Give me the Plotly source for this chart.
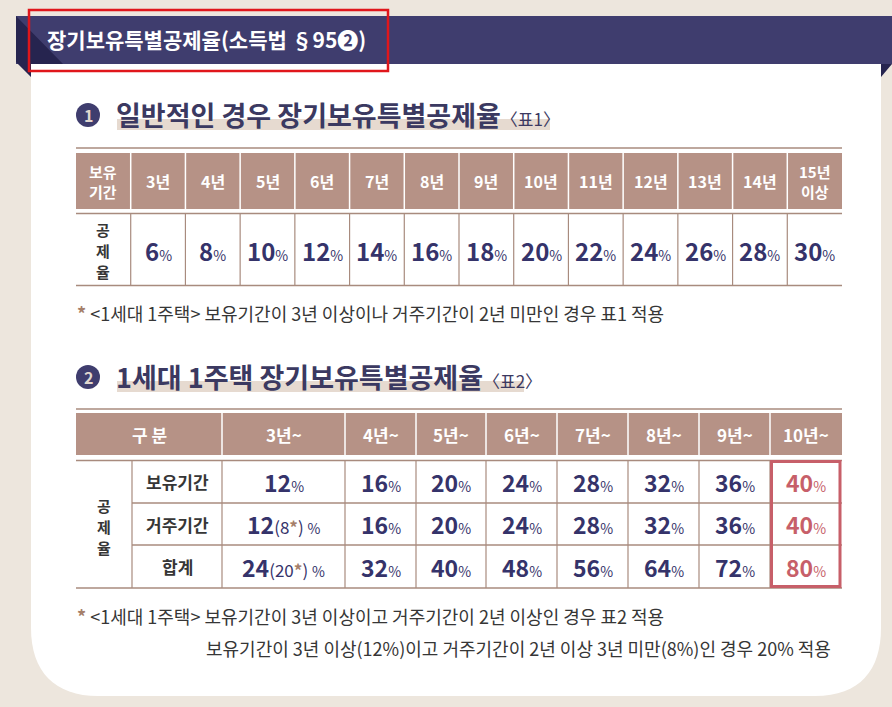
import plotly.graph_objects as go

# ---- data ----
title_text = "장기보유특별공제율(소득법 §95❷)"

sec1_no = "1"
sec1_title = "일반적인 경우 장기보유특별공제율"
sec1_tag = "〈표1〉"
t1_head_label = ["보유", "기간"]
t1_row_label = ["공", "제", "율"]
t1_periods = ["3년", "4년", "5년", "6년", "7년", "8년", "9년", "10년",
              "11년", "12년", "13년", "14년", "15년\n이상"]
t1_rates = [6, 8, 10, 12, 14, 16, 18, 20, 22, 24, 26, 28, 30]
note1 = "&lt;1세대 1주택&gt; 보유기간이 3년 이상이나 거주기간이 2년 미만인 경우 표1 적용"

sec2_no = "2"
sec2_title = "1세대 1주택 장기보유특별공제율"
sec2_tag = "〈표2〉"
t2_head_label = "구 분"
t2_group_label = ["공", "제", "율"]
t2_periods = ["3년~", "4년~", "5년~", "6년~", "7년~", "8년~", "9년~", "10년~"]
t2_row_labels = ["보유기간", "거주기간", "합계"]
hold_rates = [12, 16, 20, 24, 28, 32, 36, 40]
resid_rates = [12, 16, 20, 24, 28, 32, 36, 40]
total_rates = [24, 32, 40, 48, 56, 64, 72, 80]
resid_alt = [8, None, None, None, None, None, None, None]
total_alt = [20, None, None, None, None, None, None, None]
note2a = "&lt;1세대 1주택&gt; 보유기간이 3년 이상이고 거주기간이 2년 이상인 경우 표2 적용"
note2b = "보유기간이 3년 이상(12%)이고 거주기간이 2년 이상 3년 미만(8%)인 경우 20% 적용"

# ---- styles ----
FONT = "Noto Sans CJK KR"
BG = "#EDE6DD"
BANNER = "#3F3D6E"
BANNER_DARK = "#26244F"
HEAD = "#B69286"
LINE = "#A88B7E"
NAVY = "#35336A"
TXT = "#363636"
STAR = "#A57F6A"
RED = "#C75F69"
HILITE = "#E6DAD0"

W, H = 892, 707
fig = go.Figure()
shapes = []
ann = []


def rect(x0, y0, x1, y1, fill, line_w=0, line_c=None, layer="below"):
    shapes.append(dict(type="rect", x0=x0, y0=y0, x1=x1, y1=y1, fillcolor=fill,
                       line=dict(width=line_w, color=line_c or fill), layer=layer))


def hline(x0, x1, y, color=LINE, w=1.5):
    shapes.append(dict(type="line", x0=x0, x1=x1, y0=y, y1=y, line=dict(color=color, width=w)))


def vline(x, y0, y1, color=LINE, w=1.2):
    shapes.append(dict(type="line", x0=x, x1=x, y0=y0, y1=y1, line=dict(color=color, width=w)))


def text(x, y, s, size=15, color=TXT, xanchor="center", weight=None):
    f = dict(family=FONT, size=size, color=color)
    if weight:
        f["weight"] = weight
    ann.append(dict(x=x, y=y, text=s, showarrow=False, xanchor=xanchor, yanchor="middle",
                    font=f, align="center"))


def stack(x, yc, parts, gap=20, size=16, color=TXT):
    n = len(parts)
    for k, ch in enumerate(parts):
        text(x, yc + (k - (n - 1) / 2) * gap, f"<b>{ch}</b>", size=size, color=color)


def pct(v, alt=None):
    s = f"<b>{v}</b>"
    if alt is not None:
        s += (f"<span style='font-size:17px'>({alt}</span>"
              f"<span style='font-size:17px;color:{STAR}'><b>*</b></span>"
              f"<span style='font-size:17px'>) </span>")
    s += "<span style='font-size:14px'>%</span>"
    return s


# white panel with rounded bottom corners
shapes.append(dict(type="path",
                   path="M 31,64 L 881,64 L 881,628 C 881,670 860,696 815,696 "
                        "L 98,696 C 55,696 31,672 31,628 Z",
                   fillcolor="white", line=dict(width=0), layer="below"))

# banner
rect(16, 16, W, 64, BANNER)
shapes.append(dict(type="path", path="M 16,16 L 63,64 L 31,64 L 31,77 L 16,62 Z",
                   fillcolor=BANNER_DARK, line=dict(width=0), layer="below"))
shapes.append(dict(type="path", path="M 881,64 L 892,64 L 881,77 Z",
                   fillcolor=BANNER_DARK, line=dict(width=0), layer="below"))
text(45, 39, title_text, size=21, color="white", xanchor="left", weight=700)
rect(29, 10, 388, 71, "rgba(0,0,0,0)", 2.5, "#E0161B", layer="above")


def section(y, no, title, tag, hl_x1):
    rect(117, y + 4, hl_x1, y + 15, HILITE)
    shapes.append(dict(type="circle", x0=76, x1=100, y0=y - 12, y1=y + 12,
                       fillcolor=BANNER, line=dict(width=0)))
    text(88, y, f"<b>{no}</b>", size=16, color="#E2D8CF")
    text(114, y - 1, f"<b>{title}</b><span style='font-size:17px'>{tag}</span>",
         size=27, color="#3B3961", xanchor="left")


# ---- section 1 ----
section(115, sec1_no, sec1_title, sec1_tag, 550)

x0, x1 = 76, 842
ncol = len(t1_periods) + 1
cw = (x1 - x0) / ncol
edges1 = [x0 + i * cw for i in range(ncol + 1)]
hline(x0, x1, 148)
rect(x0, 153, x1, 209, HEAD)
hline(x0, x1, 213.5)
hline(x0, x1, 285.5)
for i in range(1, ncol):
    vline(edges1[i], 153, 209, color="white", w=1.5)
    vline(edges1[i], 214, 285)
stack((edges1[0] + edges1[1]) / 2, 181, t1_head_label, gap=20, size=15, color="white")
stack((edges1[0] + edges1[1]) / 2, 250, t1_row_label, gap=21, size=15)
for i, (p, r) in enumerate(zip(t1_periods, t1_rates)):
    cx = (edges1[i + 1] + edges1[i + 2]) / 2
    lines = p.split("\n")
    if len(lines) > 1:
        stack(cx, 181, lines, gap=20, size=15, color="white")
    else:
        text(cx, 181, p, size=16, color="white", weight=700)
    text(cx, 250, pct(r), size=24, color=NAVY)

text(75, 313, f"<span style='color:{STAR}'><b>*</b></span> {note1}", size=18,
     color=TXT, xanchor="left")

# ---- section 2 ----
section(377, sec2_no, sec2_title, sec2_tag, 524)

edges2 = [76, 132, 222, 345, 416, 486, 557, 628, 699, 770, 842]
rows_y = [460.5, 503, 545, 588]
hline(x0, x1, 409)
rect(x0, 413, x1, 455, HEAD)
hline(x0, x1, 460.5)
hline(x0, x1, 588)
for yy in rows_y[1:3]:
    hline(edges2[1], x1, yy)
for i in range(2, len(edges2) - 1):
    vline(edges2[i], 413, 455, color="white", w=1.5)
for i in range(1, len(edges2) - 1):
    vline(edges2[i], 461, 588)

text((edges2[0] + edges2[2]) / 2, 434, t2_head_label, size=17, color="white", weight=700)
for i, p in enumerate(t2_periods):
    text((edges2[i + 2] + edges2[i + 3]) / 2, 434, p, size=17, color="white", weight=700)
stack((edges2[0] + edges2[1]) / 2, 526, t2_group_label, gap=21, size=15)

series = [(hold_rates, [None] * len(hold_rates)), (resid_rates, resid_alt), (total_rates, total_alt)]
for r, (lab, (vals, alts)) in enumerate(zip(t2_row_labels, series)):
    cy = (rows_y[r] + rows_y[r + 1]) / 2
    text((edges2[1] + edges2[2]) / 2, cy, f"<b>{lab}</b>", size=17, color=TXT)
    for i, (v, a) in enumerate(zip(vals, alts)):
        col = RED if i == len(vals) - 1 else NAVY
        text((edges2[i + 2] + edges2[i + 3]) / 2, cy, pct(v, a), size=23, color=col)

# highlight last column
rect(edges2[-2] + 1.5, 461.5, x1 - 2, 586.5, "rgba(0,0,0,0)", 3, RED, layer="above")

text(75, 616, f"<span style='color:{STAR}'><b>*</b></span> {note2a}", size=18,
     color=TXT, xanchor="left")
text(204, 648, note2b, size=18, color=TXT, xanchor="left")

fig.update_layout(
    width=W, height=H, margin=dict(l=0, r=0, t=0, b=0),
    paper_bgcolor=BG, plot_bgcolor=BG,
    xaxis=dict(range=[0, W], visible=False, fixedrange=True),
    yaxis=dict(range=[H, 0], visible=False, fixedrange=True),
    shapes=shapes, annotations=ann, showlegend=False,
)
fig.write_html("out.html", config={"displayModeBar": False},
               post_script="document.body.style.margin='0';"
                           "document.body.style.background='#EDE6DD';")
